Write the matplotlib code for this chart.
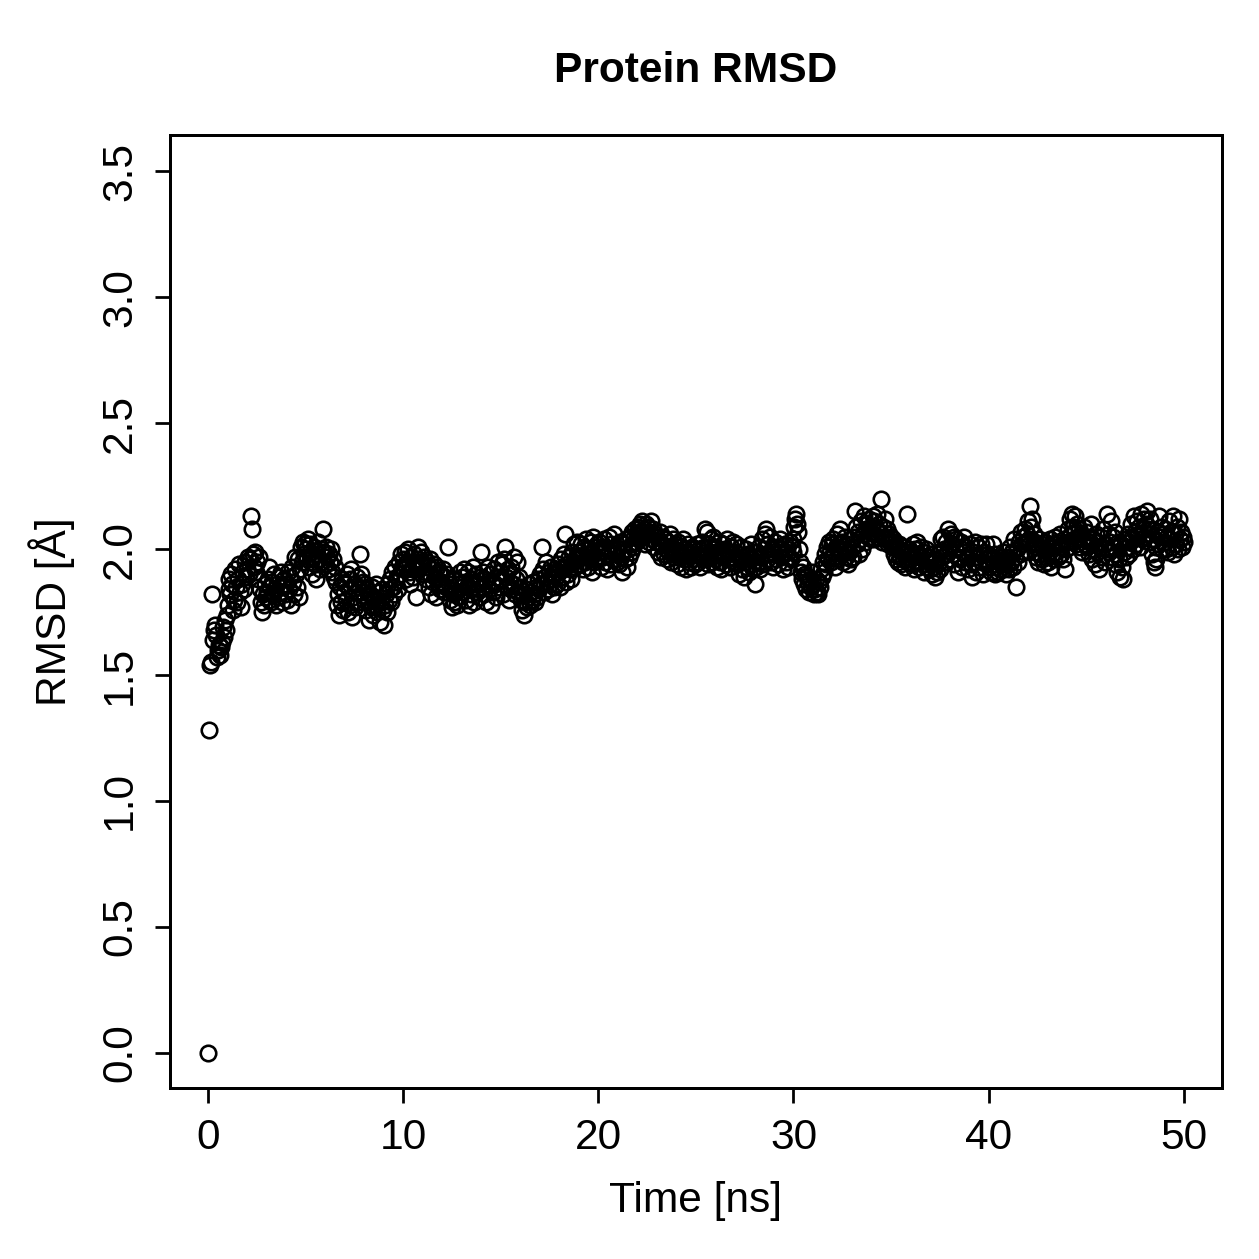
import numpy as np
import matplotlib
matplotlib.use('Agg')
from matplotlib import pyplot as plt

plt.rcParams['font.family'] = ['Liberation Sans', 'DejaVu Sans']

# rmsd values, one row per ns (0.05 ns step)
rmsd_rows = [
    [0.00, 1.28, 1.54, 1.55, 1.82, 1.64, 1.68, 1.70, 1.66, 1.57, 1.60, 1.62, 1.58, 1.61, 1.63, 1.69, 1.65, 1.72, 1.68, 1.74],
    [1.78, 1.84, 1.88, 1.82, 1.90, 1.86, 1.76, 1.80, 1.92, 1.85, 1.79, 1.88, 1.94, 1.83, 1.77, 1.86, 1.91, 1.84, 1.95, 1.89],
    [1.92, 1.97, 1.90, 1.96, 2.13, 2.08, 1.98, 1.93, 1.99, 1.91, 1.95, 1.88, 1.97, 1.84, 1.79, 1.75, 1.82, 1.78, 1.86, 1.81],
    [1.83, 1.88, 1.80, 1.93, 1.85, 1.79, 1.87, 1.82, 1.90, 1.84, 1.78, 1.86, 1.81, 1.89, 1.83, 1.91, 1.79, 1.85, 1.88, 1.82],
    [1.86, 1.80, 1.91, 1.84, 1.89, 1.78, 1.93, 1.87, 1.82, 1.97, 1.90, 1.85, 1.96, 1.81, 1.92, 2.01, 1.95, 2.03, 1.98, 2.02],
    [2.00, 1.96, 2.04, 1.93, 1.99, 2.02, 1.95, 1.90, 1.97, 2.01, 1.94, 1.88, 1.98, 2.03, 1.96, 1.92, 2.00, 1.95, 2.08, 1.99],
    [1.94, 2.01, 1.97, 1.92, 1.98, 1.95, 2.00, 1.91, 1.96, 1.89, 1.93, 1.87, 1.78, 1.82, 1.74, 1.85, 1.79, 1.88, 1.76, 1.83],
    [1.86, 1.80, 1.90, 1.75, 1.84, 1.88, 1.78, 1.92, 1.73, 1.81, 1.86, 1.77, 1.83, 1.89, 1.79, 1.85, 1.98, 1.90, 1.83, 1.87],
    [1.80, 1.86, 1.76, 1.84, 1.79, 1.72, 1.82, 1.77, 1.85, 1.74, 1.81, 1.78, 1.86, 1.75, 1.80, 1.83, 1.71, 1.79, 1.84, 1.76],
    [1.70, 1.78, 1.82, 1.75, 1.86, 1.80, 1.84, 1.88, 1.79, 1.91, 1.85, 1.82, 1.93, 1.87, 1.89, 1.84, 1.95, 1.90, 1.98, 1.93],
    [1.96, 1.92, 1.99, 1.88, 1.95, 2.00, 1.91, 1.86, 1.97, 1.93, 1.89, 1.98, 1.94, 1.81, 1.96, 2.01, 1.92, 1.95, 1.99, 1.90],
    [1.94, 1.97, 1.91, 1.88, 1.95, 1.93, 1.85, 1.90, 1.96, 1.82, 1.92, 1.87, 1.94, 1.89, 1.81, 1.93, 1.86, 1.91, 1.84, 1.90],
    [1.87, 1.92, 1.83, 1.89, 1.85, 1.90, 2.01, 1.86, 1.80, 1.84, 1.77, 1.82, 1.79, 1.88, 1.83, 1.78, 1.86, 1.81, 1.91, 1.85],
    [1.89, 1.83, 1.92, 1.87, 1.80, 1.85, 1.91, 1.78, 1.86, 1.82, 1.88, 1.84, 1.93, 1.79, 1.87, 1.90, 1.83, 1.86, 1.81, 1.89],
    [1.99, 1.85, 1.91, 1.82, 1.88, 1.79, 1.86, 1.93, 1.84, 1.90, 1.78, 1.87, 1.83, 1.92, 1.86, 1.81, 1.89, 1.95, 1.85, 1.91],
    [1.88, 1.94, 1.82, 1.96, 2.01, 1.89, 1.85, 1.92, 1.80, 1.87, 1.93, 1.84, 1.90, 1.86, 1.97, 1.82, 1.88, 1.95, 1.83, 1.89],
    [1.85, 1.80, 1.76, 1.82, 1.74, 1.79, 1.84, 1.77, 1.81, 1.86, 1.78, 1.83, 1.80, 1.87, 1.82, 1.79, 1.85, 1.81, 1.88, 1.84],
    [1.90, 1.86, 2.01, 1.92, 1.83, 1.89, 1.95, 1.87, 1.84, 1.91, 1.86, 1.93, 1.88, 1.82, 1.90, 1.85, 1.92, 1.89, 1.86, 1.94],
    [1.91, 1.85, 1.96, 1.89, 1.93, 1.98, 2.06, 1.87, 1.94, 1.90, 1.97, 1.92, 1.88, 1.99, 1.95, 2.02, 1.93, 1.97, 2.03, 1.96],
    [1.99, 1.94, 2.02, 1.97, 1.92, 2.01, 1.95, 2.04, 1.98, 1.93, 2.00, 1.96, 2.03, 1.91, 1.99, 2.05, 1.95, 2.01, 1.97, 2.02],
    [1.96, 2.03, 1.99, 1.93, 2.01, 1.97, 2.04, 1.95, 2.00, 1.92, 1.98, 2.05, 1.94, 2.02, 1.99, 1.96, 2.06, 1.98, 2.01, 1.95],
    [2.00, 1.94, 2.03, 1.97, 1.91, 1.99, 2.02, 1.96, 2.04, 1.93, 2.00, 1.97, 2.05, 1.99, 2.02, 2.07, 2.01, 2.05, 2.08, 2.03],
    [2.06, 2.09, 2.04, 2.10, 2.07, 2.11, 2.05, 2.08, 2.02, 2.10, 2.06, 2.09, 2.03, 2.07, 2.11, 2.04, 2.08, 2.01, 2.06, 2.03],
    [2.05, 1.99, 2.03, 2.07, 1.97, 2.02, 2.05, 1.98, 2.04, 2.00, 1.96, 2.03, 1.99, 2.06, 1.95, 2.01, 1.98, 2.04, 1.97, 2.02],
    [1.99, 1.94, 2.03, 1.97, 2.01, 1.93, 1.98, 2.04, 1.96, 2.00, 1.92, 1.99, 2.02, 1.95, 1.98, 1.93, 2.01, 1.96, 2.00, 1.94],
    [1.98, 2.02, 1.95, 2.00, 1.93, 1.97, 2.03, 1.96, 2.01, 2.08, 1.99, 2.07, 1.94, 2.02, 1.97, 2.04, 1.95, 2.00, 2.05, 1.98],
    [1.96, 2.01, 1.93, 1.99, 2.03, 1.95, 1.92, 1.98, 2.02, 1.97, 2.00, 1.94, 2.04, 1.96, 1.99, 1.93, 2.01, 1.97, 2.03, 1.95],
    [1.99, 2.02, 1.94, 1.98, 1.90, 1.96, 2.01, 1.92, 1.97, 1.89, 1.95, 2.00, 1.93, 1.98, 1.91, 1.96, 2.02, 1.94, 1.99, 1.92],
    [1.97, 1.86, 1.93, 1.99, 1.95, 2.01, 1.92, 1.97, 2.04, 1.94, 2.00, 2.06, 2.08, 1.96, 2.02, 1.98, 2.05, 1.95, 2.00, 1.93],
    [1.98, 2.03, 1.96, 2.01, 1.94, 1.99, 2.04, 1.97, 2.00, 1.92, 1.98, 2.02, 1.95, 2.00, 1.93, 1.97, 2.03, 1.96, 2.01, 1.99],
    [2.04, 2.09, 2.12, 2.14, 2.10, 2.07, 2.00, 1.95, 1.91, 1.88, 1.93, 1.86, 1.90, 1.84, 1.89, 1.87, 1.83, 1.88, 1.85, 1.91],
    [1.86, 1.82, 1.84, 1.88, 1.83, 1.82, 1.87, 1.85, 1.92, 1.89, 1.95, 1.91, 1.98, 1.94, 2.01, 1.96, 2.03, 1.99, 1.95, 2.02],
    [1.97, 2.04, 1.99, 1.93, 2.01, 2.06, 1.96, 2.02, 2.08, 1.98, 2.03, 1.95, 2.00, 2.05, 1.97, 2.02, 1.94, 1.99, 2.04, 1.96],
    [2.01, 1.97, 2.05, 2.15, 2.09, 2.02, 2.07, 1.98, 2.04, 2.11, 2.00, 2.06, 2.13, 2.03, 2.08, 2.10, 2.05, 2.12, 2.07, 2.04],
    [2.09, 2.13, 2.06, 2.11, 2.04, 2.08, 2.14, 2.05, 2.10, 2.07, 2.20, 2.03, 2.09, 2.05, 2.12, 2.04, 2.08, 2.02, 2.06, 2.03],
    [2.05, 2.01, 2.04, 1.98, 2.03, 1.96, 2.00, 1.95, 2.02, 1.97, 1.94, 1.99, 1.96, 2.01, 1.93, 1.98, 2.14, 1.95, 2.00, 1.96],
    [1.99, 1.94, 2.02, 1.97, 1.92, 2.00, 1.95, 2.03, 1.98, 1.93, 1.97, 2.01, 1.94, 1.99, 1.91, 1.96, 2.00, 1.93, 1.97, 1.95],
    [1.92, 1.98, 1.90, 1.95, 1.93, 1.89, 1.96, 1.91, 1.94, 1.99, 1.92, 2.04, 1.97, 2.05, 2.00, 1.95, 2.03, 1.98, 2.08, 2.01],
    [1.96, 2.06, 2.02, 1.98, 2.05, 1.94, 2.00, 2.04, 1.97, 1.91, 2.01, 1.96, 2.03, 1.93, 1.99, 2.05, 1.95, 2.01, 1.97, 1.92],
    [1.98, 2.02, 1.94, 1.89, 1.99, 1.95, 2.03, 1.91, 1.97, 2.01, 1.93, 1.98, 2.02, 1.95, 1.90, 1.99, 1.96, 2.02, 1.94, 1.98],
    [1.93, 1.97, 1.91, 1.96, 2.02, 1.94, 1.90, 1.98, 1.93, 1.96, 1.91, 1.95, 1.92, 1.97, 1.94, 1.99, 1.92, 1.96, 1.90, 1.94],
    [1.97, 1.92, 2.01, 1.95, 1.99, 1.93, 2.04, 1.97, 1.85, 2.00, 1.95, 2.03, 1.98, 2.07, 2.02, 2.05, 1.99, 2.08, 2.03, 2.06],
    [2.11, 2.04, 2.17, 2.09, 2.12, 2.02, 2.06, 1.99, 2.03, 1.97, 2.01, 1.95, 2.04, 1.98, 2.02, 1.96, 2.00, 1.94, 2.03, 1.97],
    [2.01, 1.95, 1.99, 2.04, 1.93, 1.98, 2.02, 1.96, 2.05, 1.99, 2.03, 1.97, 2.01, 2.06, 1.98, 2.02, 1.96, 2.04, 1.92, 2.00],
    [2.03, 2.08, 2.01, 2.12, 2.06, 2.14, 2.09, 2.04, 2.13, 2.07, 2.02, 2.10, 2.05, 2.08, 2.01, 2.06, 1.99, 2.04, 2.09, 2.02],
    [2.07, 2.01, 2.05, 1.98, 2.03, 2.10, 1.96, 2.04, 2.00, 1.94, 2.06, 1.99, 2.03, 1.92, 2.01, 2.05, 1.97, 2.08, 2.02, 1.95],
    [2.00, 2.14, 2.06, 1.99, 2.03, 2.11, 1.97, 2.05, 2.01, 1.94, 2.07, 1.98, 1.91, 2.03, 1.96, 1.89, 2.02, 1.93, 1.88, 1.99],
    [2.04, 1.97, 2.01, 2.06, 1.98, 2.03, 2.10, 2.05, 2.00, 2.13, 2.07, 2.02, 2.11, 2.06, 2.09, 2.01, 2.14, 2.04, 2.08, 2.12],
    [2.05, 2.10, 2.15, 2.08, 2.03, 2.12, 2.06, 1.98, 2.04, 1.95, 1.93, 2.01, 1.96, 2.07, 2.02, 2.13, 2.05, 2.09, 2.00, 2.06],
    [2.03, 2.08, 2.00, 2.05, 1.99, 2.11, 2.04, 2.07, 2.01, 2.13, 1.98, 2.06, 2.02, 2.09, 2.00, 2.12, 2.04, 2.07, 2.01, 2.05],
    [2.03],
]
rmsd = np.concatenate([np.array(r) for r in rmsd_rows])
time_ns = np.arange(len(rmsd)) * 0.05

fig = plt.figure(figsize=(1259/180, 1259/180), dpi=180)
ax = fig.add_axes([0.135, 0.1358, 0.8355, 0.757])

ax.plot(time_ns, rmsd, linestyle='none', marker='o', markersize=6.2,
        markerfacecolor='none', markeredgecolor='black', markeredgewidth=1.05)

ax.set_xlim(-1.95, 51.95)
ax.set_ylim(-0.14, 3.645)
ax.set_xticks([0, 10, 20, 30, 40, 50])
ax.set_yticks([0.0, 0.5, 1.0, 1.5, 2.0, 2.5, 3.0, 3.5])
ax.set_yticklabels(['0.0', '0.5', '1.0', '1.5', '2.0', '2.5', '3.0', '3.5'],
                   rotation=90, va='center')
ax.tick_params(direction='out', length=6, width=1.1, labelsize=17, pad=6)

for s in ax.spines.values():
    s.set_linewidth(1.2)

ax.set_xlabel('Time [ns]', fontsize=17, labelpad=9)
ax.set_ylabel('RMSD [Å]', fontsize=17, labelpad=10)
ax.set_title('Protein RMSD', fontsize=17, fontweight='bold', pad=21)

fig.savefig('out.png', dpi=180)
